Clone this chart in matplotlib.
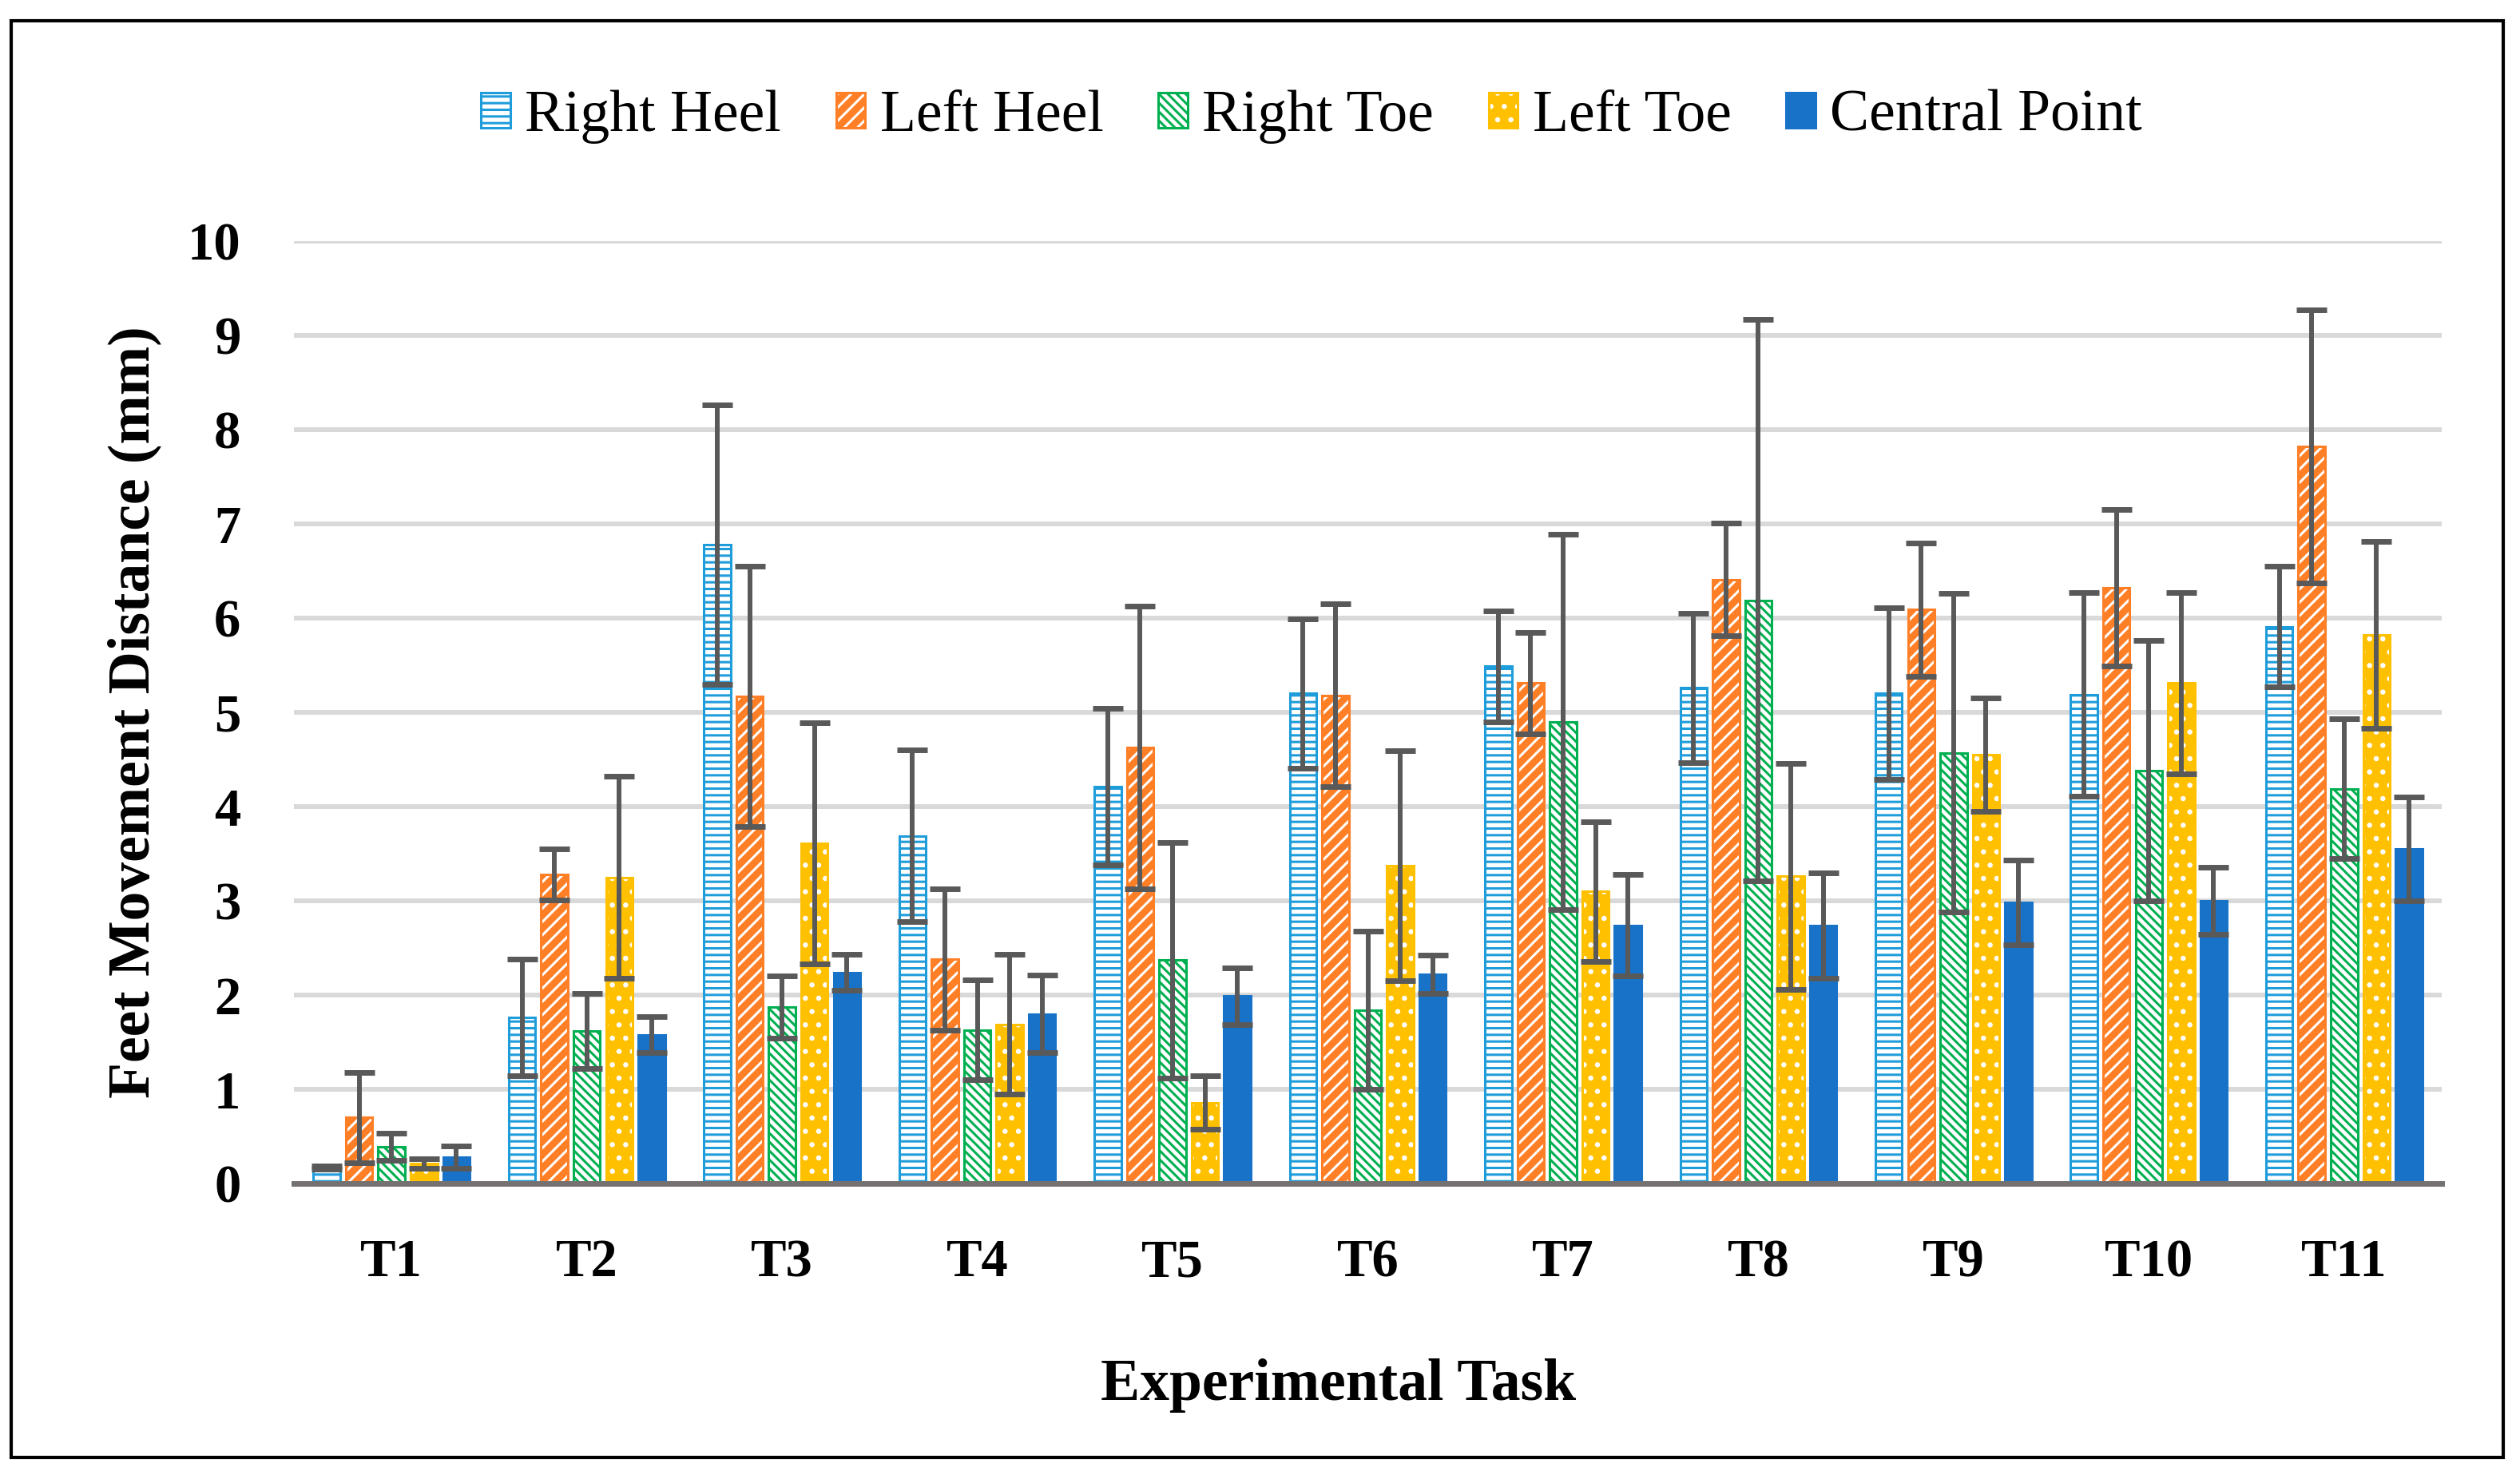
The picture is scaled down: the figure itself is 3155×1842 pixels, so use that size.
import matplotlib
matplotlib.use("Agg")
import matplotlib.pyplot as plt
import numpy as np
from matplotlib.patches import Patch, Rectangle
from matplotlib.legend_handler import HandlerTuple

# tasks and series (means and +/- error, mm)
tasks = ['T1', 'T2', 'T3', 'T4', 'T5', 'T6', 'T7', 'T8', 'T9', 'T10', 'T11']
series = ['Right Heel', 'Left Heel', 'Right Toe', 'Left Toe', 'Central Point']

right_heel = [0.17, 1.76, 6.78, 3.69, 4.21, 5.20, 5.49, 5.26, 5.20, 5.19, 5.91]
left_heel = [0.70, 3.28, 5.17, 2.38, 4.63, 5.18, 5.31, 6.41, 6.09, 6.32, 7.82]
right_toe = [0.39, 1.62, 1.87, 1.63, 2.37, 1.84, 4.90, 6.19, 4.57, 4.38, 4.19]
left_toe = [0.21, 3.25, 3.61, 1.69, 0.86, 3.37, 3.10, 3.26, 4.55, 5.31, 5.82]
central = [0.28, 1.58, 2.24, 1.80, 1.99, 2.22, 2.74, 2.74, 2.98, 3.00, 3.55]

right_heel_err = [0.02, 0.62, 1.48, 0.91, 0.83, 0.79, 0.59, 0.79, 0.91, 1.08, 0.64]
left_heel_err = [0.48, 0.27, 1.38, 0.75, 1.50, 0.97, 0.54, 0.60, 0.71, 0.83, 1.45]
right_toe_err = [0.14, 0.40, 0.33, 0.53, 1.25, 0.84, 1.99, 2.98, 1.69, 1.38, 0.74]
left_toe_err = [0.05, 1.07, 1.28, 0.74, 0.28, 1.22, 0.74, 1.20, 0.60, 0.96, 0.99]
central_err = [0.12, 0.19, 0.19, 0.41, 0.30, 0.20, 0.54, 0.56, 0.45, 0.36, 0.55]

values = [right_heel, left_heel, right_toe, left_toe, central]
errors = [right_heel_err, left_heel_err, right_toe_err, left_toe_err, central_err]

# face, hatch colour, hatch, outline
styles = [
    ('white', '#1F9DDB', '--', '#1F9DDB'),
    ('#FF7F27', 'white', '//', '#FF7F27'),
    ('white', '#00B050', '\\\\\\', '#00B050'),
    ('#FFC000', 'white', '.', '#FFC000'),
    ('#1872C8', '#1872C8', None, '#1872C8'),
]

plt.rcParams['font.family'] = ['Liberation Serif', 'DejaVu Serif']
plt.rcParams['hatch.linewidth'] = 2.2

fig = plt.figure(figsize=(31.55, 18.42), dpi=100)
ax = fig.add_axes([368 / 3155, 1 - 1482 / 1842, (3057 - 368) / 3155, (1482 - 302) / 1842])

x = np.arange(len(tasks))
width = 0.137
step = 0.166

handles = []
for k in range(len(series)):
    face, hcol, hatch, edge = styles[k]
    pos = x + (k - 2) * step
    ax.bar(pos, values[k], width, color=face, edgecolor=hcol, hatch=hatch,
           linewidth=0, zorder=2)
    ax.bar(pos, values[k], width, fill=False, edgecolor=edge, linewidth=2.2, zorder=3)
    ax.errorbar(pos, values[k], yerr=errors[k], fmt='none', ecolor='#595959',
                elinewidth=4.3, capsize=13.5, capthick=5, zorder=4)
    h1 = Patch(facecolor=face, edgecolor=hcol, hatch=hatch, linewidth=0)
    h2 = Patch(fill=False, edgecolor=edge, linewidth=2.2)
    handles.append((h1, h2))

ax.set_xlim(-0.5, len(tasks) - 0.5)
ax.set_ylim(0, 10)
ax.set_yticks(range(0, 11))
ax.set_xticks(x)
ax.set_xticklabels(tasks)
ax.yaxis.grid(True, color='#D9D9D9', linewidth=4.3)
ax.set_axisbelow(True)
for s in ['top', 'right', 'left']:
    ax.spines[s].set_visible(False)
ax.spines['bottom'].set_color('#767171')
ax.spines['bottom'].set_linewidth(5)
ax.spines['bottom'].set_zorder(5)
ax.tick_params(axis='both', length=0, labelsize=48)
ax.tick_params(axis='y', pad=48)
ax.tick_params(axis='x', pad=50)
for lab in ax.get_xticklabels() + ax.get_yticklabels():
    lab.set_fontweight('bold')

fig.text(1676 / 3155, 1 - 1735 / 1842, 'Experimental Task', ha='center', va='center',
         fontsize=53, fontweight='bold')
fig.text(168 / 3155, 1 - 892 / 1842, 'Feet Movement Distance (mm)', ha='center', va='center',
         rotation=90, fontsize=53, fontweight='bold')

fig.legend(handles, series, loc='center', bbox_to_anchor=(1642 / 3155, 1 - 146 / 1842),
           ncol=5, frameon=False, fontsize=53, handlelength=0.5, handleheight=0.55,
           handletextpad=0.25, columnspacing=0.93,
           handler_map={tuple: HandlerTuple(ndivide=1, pad=0)})

# outer frame
fig.patches.append(Rectangle((14 / 3155, 1 - 1825 / 1842), (3134 - 14) / 3155, (1825 - 26) / 1842,
                             transform=fig.transFigure, fill=False, edgecolor='black',
                             linewidth=3))

fig.savefig('out.png', dpi=100)
